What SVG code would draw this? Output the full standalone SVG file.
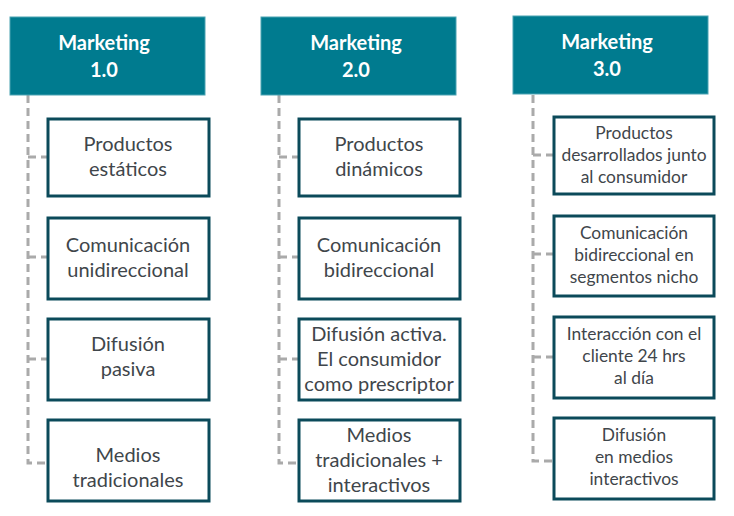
<svg xmlns="http://www.w3.org/2000/svg" width="734" height="516" viewBox="0 0 734 516">
<style>
.hdr{fill:#007B8F;stroke:#4AA3B2;stroke-width:1}
.ht{font-family:Lato,"Open Sans",sans-serif;font-weight:bold;font-size:20px;fill:#fff;text-anchor:middle}
.box{fill:#fff;stroke:#0B4A5A;stroke-width:3}
.t{font-family:Lato,"Open Sans",sans-serif;font-size:20px;fill:#3F464B;text-anchor:middle}
.s{font-size:17.4px}
.c{fill:none;stroke:#AAAAAA;stroke-width:3;stroke-dasharray:8 5}
</style>
<g id="connectors">
<path class="c" d="M28 95V463H47M28 157H47M28 257H47M28 359H47"/>
<path class="c" d="M279 95V463H298M279 157H298M279 257H298M279 359H298"/>
<path class="c" d="M533 95V461H553M533 155H553M533 254H553M533 357H553"/>
</g>
<g id="h1"><rect class="hdr" x="10" y="17" width="195" height="78"/><text class="ht" x="104" y="50">Marketing</text><text class="ht" x="104" y="77">1.0</text></g>
<g id="h2"><rect class="hdr" x="261" y="17" width="195" height="78"/><text class="ht" x="356" y="50">Marketing</text><text class="ht" x="356" y="77">2.0</text></g>
<g id="h3"><rect class="hdr" x="513" y="16" width="195" height="78"/><text class="ht" x="607" y="49">Marketing</text><text class="ht" x="607" y="76">3.0</text></g>
<g id="n11"><rect class="box" x="48" y="119" width="161" height="77"/><text class="t" x="128" y="151">Productos</text><text class="t" x="128" y="176">estáticos</text></g>
<g id="n12"><rect class="box" x="48" y="218" width="161" height="81"/><text class="t" x="128" y="252">Comunicación</text><text class="t" x="128" y="277">unidireccional</text></g>
<g id="n13"><rect class="box" x="48" y="319" width="161" height="81"/><text class="t" x="128" y="351">Difusión</text><text class="t" x="128" y="376">pasiva</text></g>
<g id="n14"><rect class="box" x="48" y="420" width="161" height="81"/><text class="t" x="128" y="462">Medios</text><text class="t" x="128" y="487">tradicionales</text></g>
<g id="n21"><rect class="box" x="299" y="119" width="161" height="77"/><text class="t" x="379" y="151">Productos</text><text class="t" x="379" y="176">dinámicos</text></g>
<g id="n22"><rect class="box" x="299" y="218" width="161" height="81"/><text class="t" x="379" y="252">Comunicación</text><text class="t" x="379" y="277">bidireccional</text></g>
<g id="n23"><rect class="box" x="299" y="319" width="161" height="81"/><text class="t" x="379" y="341">Difusión activa.</text><text class="t" x="379" y="366">El consumidor</text><text class="t" x="379" y="391">como prescriptor</text></g>
<g id="n24"><rect class="box" x="299" y="420" width="161" height="81"/><text class="t" x="379" y="442">Medios</text><text class="t" x="379" y="467">tradicionales +</text><text class="t" x="379" y="492">interactivos</text></g>
<g id="n31"><rect class="box" x="554" y="117" width="160" height="77"/><text class="t s" x="634" y="139">Productos</text><text class="t s" x="634" y="161">desarrollados junto</text><text class="t s" x="634" y="183">al consumidor</text></g>
<g id="n32"><rect class="box" x="554" y="216" width="160" height="80"/><text class="t s" x="634" y="239">Comunicación</text><text class="t s" x="634" y="261">bidireccional en</text><text class="t s" x="634" y="283">segmentos nicho</text></g>
<g id="n33"><rect class="box" x="554" y="317" width="160" height="81"/><text class="t s" x="634" y="340">Interacción con el</text><text class="t s" x="634" y="362">cliente 24 hrs</text><text class="t s" x="634" y="384">al día</text></g>
<g id="n34"><rect class="box" x="554" y="418" width="160" height="81"/><text class="t s" x="634" y="441">Difusión</text><text class="t s" x="634" y="463">en medios</text><text class="t s" x="634" y="485">interactivos</text></g>
</svg>
